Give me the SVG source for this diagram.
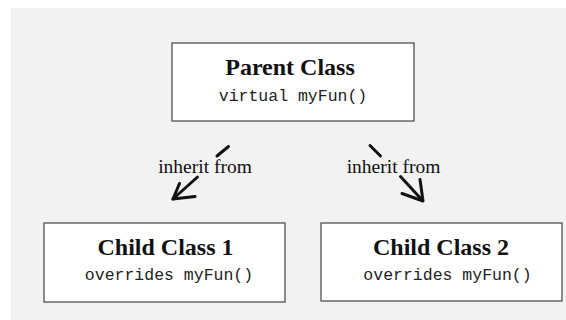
<svg xmlns="http://www.w3.org/2000/svg" width="566" height="320" viewBox="0 0 566 320">
  <style>
    .box { fill: #ffffff; stroke: #444444; stroke-width: 1.2; }
    .title { font-family: "Liberation Serif", "Times New Roman", serif; font-weight: bold; font-size: 24px; fill: #111111; text-anchor: middle; }
    .code { font-family: "Liberation Mono", "Courier New", monospace; font-size: 16.5px; fill: #222222; text-anchor: middle; }
    .label { font-family: "Liberation Serif", "Times New Roman", serif; font-size: 19.5px; fill: #111111; text-anchor: middle; }
    .stroke { fill: none; stroke: #111111; stroke-width: 3; stroke-linecap: round; stroke-linejoin: round; }
  </style>

  <!-- backdrop -->
  <rect x="11" y="8" width="555" height="312" fill="#f2f2f2"/>

  <!-- inheritance connectors, broken around their labels -->
  <g id="connectors">
    <g id="edge-left">
      <path class="stroke" d="M228.5,146.5 L217,156"/>
      <path class="stroke" d="M197.5,177 L173,199"/>
      <path class="stroke" d="M179.5,183.5 L173,199 L195,196.5"/>
      <text class="label" x="205" y="173">inherit from</text>
    </g>
    <g id="edge-right">
      <path class="stroke" d="M370,145.5 L380.5,156"/>
      <path class="stroke" d="M400.5,176.5 L422.5,200.5"/>
      <path class="stroke" d="M402,193.5 L423,201 L420,179.5"/>
      <text class="label" x="393.5" y="173">inherit from</text>
    </g>
  </g>

  <g id="parent-class">
    <rect class="box" x="172" y="43" width="242" height="78"/>
    <text class="title" x="290" y="75">Parent Class</text>
    <text class="code" x="293" y="101">virtual myFun()</text>
  </g>

  <g id="child-class-1">
    <rect class="box" x="44" y="223" width="241" height="79"/>
    <text class="title" x="165.5" y="255">Child Class 1</text>
    <text class="code" x="169" y="280">overrides myFun()</text>
  </g>

  <g id="child-class-2">
    <rect class="box" x="321" y="223" width="241" height="78"/>
    <text class="title" x="441" y="255">Child Class 2</text>
    <text class="code" x="447.5" y="280">overrides myFun()</text>
  </g>
</svg>
